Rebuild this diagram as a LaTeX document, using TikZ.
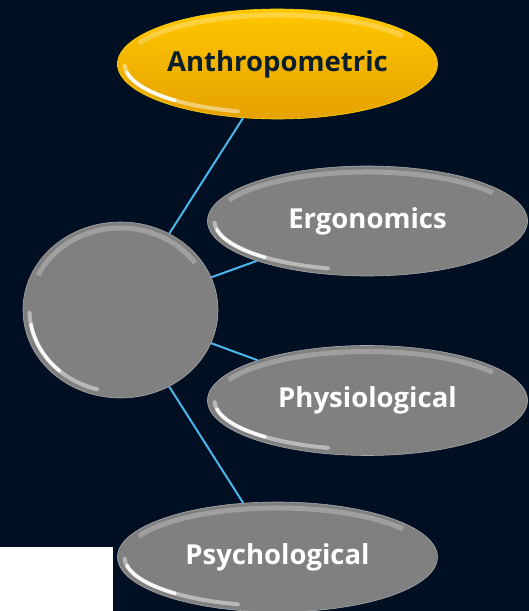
\documentclass[tikz,border=0pt]{standalone}
\usepackage{fontspec}
\setmainfont{Open Sans}
\usetikzlibrary{shapes.geometric}

\definecolor{navy}{HTML}{000F22}
\definecolor{link}{HTML}{4CB6EC}
\definecolor{stone}{HTML}{808080}
\definecolor{gold}{HTML}{FFB400}
\definecolor{ink}{HTML}{0B1E2C}

\begin{document}
\begin{tikzpicture}[x=1pt,y=1pt,
  bubble/.style={ellipse, minimum width=320pt, minimum height=110pt, inner sep=0pt,
    fill=stone, draw=stone!70!white, line width=0.6pt, text=white,
    font=\fontsize{27.5}{32}\selectfont\bfseries},
  goldbubble/.style={bubble, fill=none, top color=gold!75!yellow, middle color=gold,
    bottom color=gold!90!black, draw=gold!60!yellow, text=ink},
  hub/.style={bubble, minimum width=195pt, minimum height=176pt},
  link/.style={draw=link, line width=2pt}]
\useasboundingbox (0,0) rectangle (529,611);
\clip (0,0) rectangle (529,611);
\fill[navy] (0,0) rectangle (529,611);
\fill[white] (0,0) rectangle (113,64);

\node[hub] (hub) at (120.5,301) {};
\node[goldbubble] (anthro) at (277.5,547) {Anthropometric};
\node[bubble] (ergo) at (367.5,390) {Ergonomics};
\node[bubble] (physio) at (367.5,210.5) {Physiological};
\node[bubble] (psycho) at (277.5,54) {Psychological};

\foreach \n in {anthro,ergo,physio,psycho}
  \draw[link] (hub) -- (\n);

% gloss on the rims
\foreach \n/\rx/\ry in {hub/91/82,anthro/153/49,ergo/153/49,physio/153/49,psycho/153/49} {
  \draw[white, line width=5pt, opacity=0.25]
    (\n.center) ++(35:\rx pt and \ry pt) arc[start angle=35, end angle=155, x radius=\rx pt, y radius=\ry pt];
  \draw[white, line width=4pt, line cap=round, opacity=0.45]
    (\n.center) ++(182:\rx pt and \ry pt) arc[start angle=182, end angle=255, x radius=\rx pt, y radius=\ry pt];
  \draw[white, line width=3.5pt, line cap=round, opacity=0.9]
    (\n.center) ++(190:\rx pt and \ry pt) arc[start angle=190, end angle=228, x radius=\rx pt, y radius=\ry pt];
}
\end{tikzpicture}
\end{document}
